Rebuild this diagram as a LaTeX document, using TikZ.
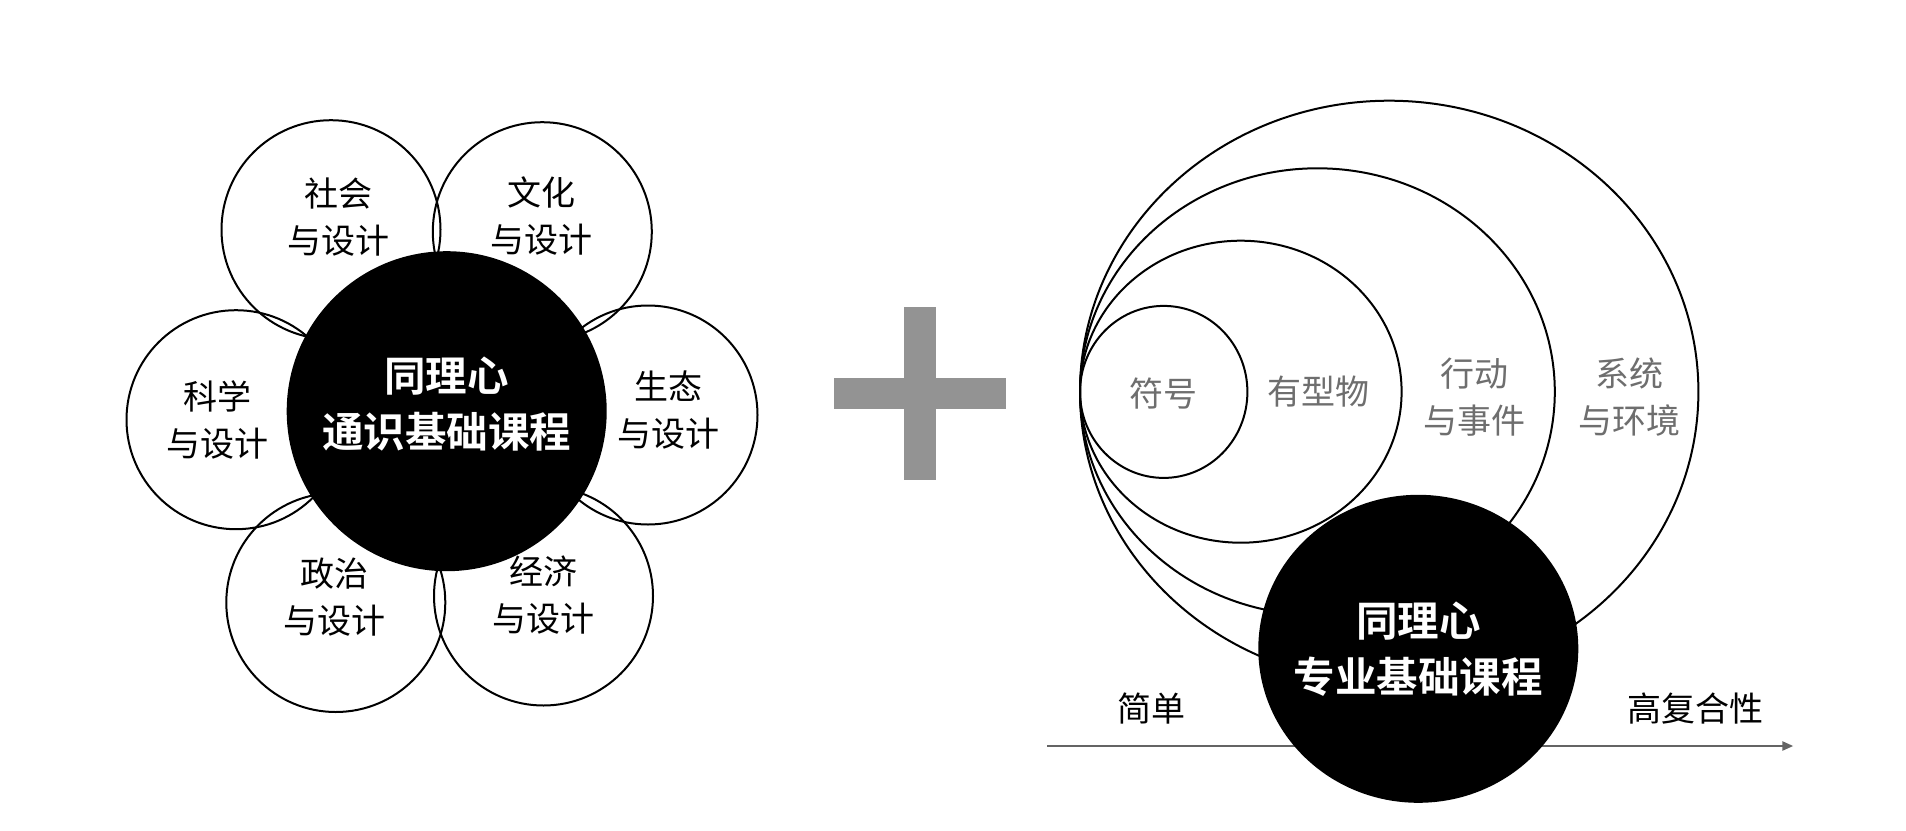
\documentclass[tikz,border=0pt]{standalone}
\usepackage{fontspec}
\newfontfamily\cjk{Noto Sans CJK SC}[BoldFont={Noto Sans CJK SC Bold}]
\usetikzlibrary{arrows.meta}
\definecolor{plusgray}{RGB}{147,147,147}
\definecolor{txtgray}{RGB}{110,110,110}
\definecolor{axisgray}{RGB}{100,100,100}
\begin{document}
\begin{tikzpicture}[x=1pt,y=-1pt,
  petal/.style={line width=2pt},
  ring/.style={line width=2pt},
  hub/.style={fill=black},
  lbl/.style={font=\cjk\fontsize{34}{47}\selectfont, align=center, inner sep=0pt, text=black},
  glbl/.style={lbl, text=txtgray},
  core/.style={font=\cjk\bfseries\fontsize{41.5}{56}\selectfont, align=center, inner sep=0pt, text=white},
  axis/.style={draw=axisgray, line width=2.4pt, -{Triangle[length=11pt,width=9pt]}},
  plusbar/.style={fill=plusgray, draw=none}
]
\useasboundingbox[fill=white] (0,0) rectangle (1906,830);

% ---- left flower ----
\draw[petal] (331,229.7)   circle [radius=109.5];
\draw[petal] (542.3,231.7) circle [radius=109.5];
\draw[petal] (236,419.7)   circle [radius=109.5];
\draw[petal] (648,415)     circle [radius=109.5];
\draw[petal] (335.8,602.5) circle [radius=109.5];
\draw[petal] (543.5,596)   circle [radius=109.5];
\fill[hub] (446.7,411.2) circle [radius=160];

\node[lbl] (shehui)   at (338,217.5)   {社会\\与设计};
\node[lbl] (wenhua)   at (541,215.8)   {文化\\与设计};
\node[lbl] (kexue)    at (217.5,419.5) {科学\\与设计};
\node[lbl] (shengtai) at (668.5,410)   {生态\\与设计};
\node[lbl] (zhengzhi) at (334.5,597.5) {政治\\与设计};
\node[lbl] (jingji)   at (543,595.5)   {经济\\与设计};
\node[core] (tongshi) at (446.7,404.4) {同理心\\通识基础课程};

% ---- plus ----
\fill[plusbar] (904,307.3) rectangle (936,480);
\fill[plusbar] (834,377.7) rectangle (1006,409.3);

% ---- right nested rings ----
\draw[ring] (1389.2,391.7) ellipse [x radius=309.2, y radius=291];
\draw[ring] (1317.4,391.7) ellipse [x radius=237.4, y radius=223.4];
\draw[ring] (1240.8,391.7) ellipse [x radius=160.8, y radius=151];
\draw[ring] (1163.7,391.9) ellipse [x radius=83.7, y radius=86];

\coordinate (axstart) at (1047.3,746);
\coordinate (axend) at (1793.3,746);
\draw[axis] (axstart) -- (axend);

\fill[hub] (1418.3,648.8) ellipse [x radius=160, y radius=154];

\node[glbl] (fuhao)     at (1163.7,394)   {符号};
\node[glbl] (youxingwu) at (1318,392)     {有型物};
\node[glbl] (xingdong)  at (1474.5,396.8) {行动\\与事件};
\node[glbl] (xitong)    at (1629.5,397.5) {系统\\与环境};
\node[core] (zhuanye)   at (1418.3,648.8) {同理心\\专业基础课程};

\node[lbl] (jiandan) at (1151.7,709) {简单};
\node[lbl] (gaofuhe) at (1695.7,709) {高复合性};
\end{tikzpicture}
\end{document}
